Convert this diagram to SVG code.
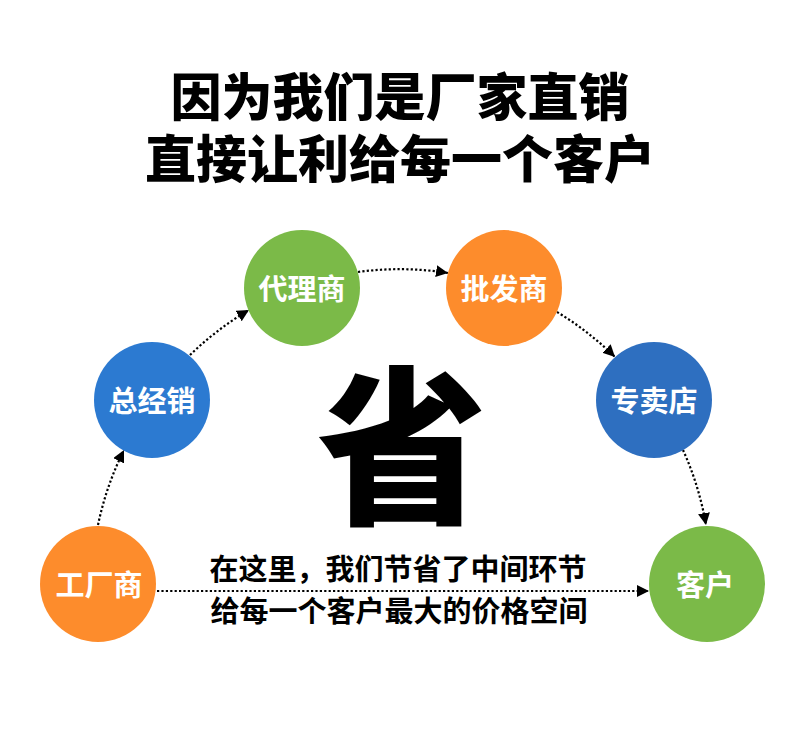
<svg xmlns="http://www.w3.org/2000/svg" width="800" height="744" viewBox="0 0 800 744">
<style>
.t{font-family:"Noto Sans CJK SC","Noto Sans",sans-serif;text-anchor:middle}
.title{font-size:51px;font-weight:900;fill:#000}
.big{font-size:170px;font-weight:900;fill:#000}
.sub{font-size:29px;font-weight:700;fill:#000}
.lbl{font-size:29px;font-weight:700;fill:#fff}
.c{fill:none;stroke:#000;stroke-width:2.2;stroke-dasharray:2.2 2.2}
.o{fill:#FD8C2C}.g{fill:#7BBA48}.b1{fill:#2C7AD1}.b2{fill:#2E6FC0}
</style>
<defs>
<marker id="ah" markerUnits="userSpaceOnUse" markerWidth="14" markerHeight="12" refX="12" refY="6" orient="auto">
<path d="M0,0 L12,6 L0,12 Z" fill="#000"/>
</marker>
</defs>
<rect width="800" height="744" fill="#fff"/>
<text class="t title" x="400" y="116">因为我们是厂家直销</text>
<text class="t title" x="400" y="178">直接让利给每一个客户</text>
<text class="t big" x="402" y="511">省</text>
<text class="t sub" x="398" y="580">在这里，我们节省了中间环节</text>
<text class="t sub" x="399" y="622">给每一个客户最大的价格空间</text>
<g id="connectors">
<path class="c" d="M98,525 A308,308 0 0 1 124,450" marker-end="url(#ah)"/>
<path class="c" d="M190,355 A308,308 0 0 1 249,310" marker-end="url(#ah)"/>
<path class="c" d="M358,272 A308,308 0 0 1 448,273" marker-end="url(#ah)"/>
<path class="c" d="M557,312 A308,308 0 0 1 615,357" marker-end="url(#ah)"/>
<path class="c" d="M683,450 A308,308 0 0 1 706,525" marker-end="url(#ah)"/>
<path class="c" d="M157,591 L649,591" marker-end="url(#ah)"/>
</g>
<g id="n-gongchang"><circle class="o" cx="98" cy="584" r="58"/><text class="t lbl" x="99" y="596">工厂商</text></g>
<g id="n-zongjingxiao"><circle class="b1" cx="152" cy="400" r="58"/><text class="t lbl" x="152" y="412">总经销</text></g>
<g id="n-dailishang"><circle class="g" cx="302" cy="288" r="58"/><text class="t lbl" x="302" y="300">代理商</text></g>
<g id="n-pifashang"><circle class="o" cx="504" cy="288" r="58"/><text class="t lbl" x="504" y="300">批发商</text></g>
<g id="n-zhuanmaidian"><circle class="b2" cx="654" cy="400" r="58"/><text class="t lbl" x="654" y="412">专卖店</text></g>
<g id="n-kehu"><circle class="g" cx="707" cy="584" r="58"/><text class="t lbl" x="705" y="596">客户</text></g>
</svg>
